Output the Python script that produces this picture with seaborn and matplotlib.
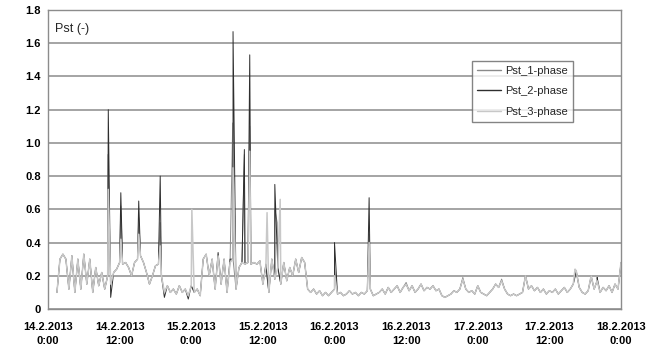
import numpy as np
import pandas as pd
import matplotlib
matplotlib.use("Agg")
import matplotlib.pyplot as plt
import seaborn as sns

# ---------------- data ----------------
# time grid in hours since 14.2.2013 0:00, half-hour steps
hours = np.arange(0, 96.5, 0.5)

phase3 = [np.nan, np.nan, np.nan, 0.10, 0.30, 0.33, 0.30, 0.12, 0.32, 0.10,
          0.30, 0.12, 0.33, 0.15, 0.30, 0.10, 0.25, 0.14, 0.22, 0.12,
          0.20, 0.15, 0.22, 0.24, 0.28, 0.27, 0.28, 0.25, 0.20, 0.28,
          0.30, 0.32, 0.28, 0.22, 0.15, 0.20, 0.26, 0.27, 0.20, 0.10,
          0.14, 0.10, 0.12, 0.09, 0.14, 0.10, 0.12, 0.08, 0.14, 0.10,
          0.12, 0.08, 0.30, 0.33, 0.20, 0.30, 0.12, 0.32, 0.15, 0.30,
          0.10, 0.28, 0.30, 0.12, 0.25, 0.28, 0.27, 0.28, 0.27, 0.28,
          0.27, 0.29, 0.15, 0.25, 0.10, 0.30, 0.18, 0.25, 0.15, 0.28,
          0.17, 0.25, 0.20, 0.30, 0.22, 0.31, 0.28, 0.12, 0.10, 0.12,
          0.09, 0.11, 0.08, 0.10, 0.08, 0.10, 0.12, 0.09, 0.10, 0.08,
          0.09, 0.11, 0.09, 0.10, 0.08, 0.10, 0.09, 0.11, 0.12, 0.08,
          0.09, 0.10, 0.12, 0.09, 0.13, 0.10, 0.12, 0.14, 0.10, 0.13,
          0.15, 0.11, 0.14, 0.10, 0.12, 0.15, 0.11, 0.13, 0.12, 0.14,
          0.11, 0.12, 0.08, 0.07, 0.08, 0.09, 0.11, 0.10, 0.12, 0.18,
          0.12, 0.10, 0.11, 0.09, 0.14, 0.10, 0.09, 0.08, 0.10, 0.12,
          0.15, 0.13, 0.17, 0.12, 0.09, 0.08, 0.09, 0.08, 0.09, 0.10,
          0.20, 0.12, 0.14, 0.11, 0.13, 0.10, 0.12, 0.09, 0.11, 0.10,
          0.12, 0.09, 0.11, 0.13, 0.10, 0.12, 0.15, 0.23, 0.13, 0.10,
          0.09, 0.11, 0.20, 0.12, 0.17, 0.10, 0.13, 0.11, 0.14, 0.10,
          0.15, 0.12, 0.28]

phase1 = [np.nan, np.nan, np.nan, 0.10, 0.30, 0.33, 0.30, 0.12, 0.32, 0.10,
          0.30, 0.12, 0.33, 0.15, 0.30, 0.10, 0.25, 0.14, 0.22, 0.12,
          0.20, 0.15, 0.22, 0.24, 0.28, 0.27, 0.28, 0.25, 0.20, 0.28,
          0.30, 0.32, 0.28, 0.22, 0.15, 0.20, 0.26, 0.27, 0.20, 0.10,
          0.14, 0.10, 0.12, 0.09, 0.14, 0.10, 0.12, 0.08, 0.14, 0.10,
          0.12, 0.08, 0.30, 0.33, 0.20, 0.30, 0.12, 0.32, 0.15, 0.30,
          0.10, 0.28, 0.30, 0.12, 0.25, 0.28, 0.27, 0.28, 0.27, 0.28,
          0.27, 0.29, 0.15, 0.25, 0.10, 0.30, 0.18, 0.25, 0.15, 0.28,
          0.17, 0.25, 0.20, 0.30, 0.22, 0.31, 0.28, 0.12, 0.10, 0.12,
          0.09, 0.11, 0.08, 0.10, 0.08, 0.10, 0.12, 0.09, 0.10, 0.08,
          0.09, 0.11, 0.09, 0.10, 0.08, 0.10, 0.09, 0.11, 0.12, 0.08,
          0.09, 0.10, 0.12, 0.09, 0.13, 0.10, 0.12, 0.14, 0.10, 0.13,
          0.16, 0.11, 0.14, 0.10, 0.12, 0.15, 0.11, 0.13, 0.12, 0.14,
          0.11, 0.12, 0.08, 0.07, 0.08, 0.09, 0.11, 0.10, 0.12, 0.19,
          0.12, 0.10, 0.11, 0.09, 0.14, 0.10, 0.09, 0.08, 0.10, 0.12,
          0.15, 0.13, 0.18, 0.12, 0.09, 0.08, 0.09, 0.08, 0.09, 0.10,
          0.20, 0.12, 0.14, 0.11, 0.13, 0.10, 0.12, 0.09, 0.11, 0.10,
          0.12, 0.09, 0.11, 0.13, 0.10, 0.12, 0.15, 0.22, 0.13, 0.10,
          0.09, 0.11, 0.19, 0.12, 0.17, 0.10, 0.13, 0.11, 0.14, 0.10,
          0.15, 0.12, 0.27]

phase2 = [np.nan, np.nan, np.nan, 0.10, 0.30, 0.33, 0.30, 0.12, 0.32, 0.10,
          0.30, 0.12, 0.33, 0.15, 0.30, 0.10, 0.25, 0.14, 0.22, 0.12,
          0.20, 0.07, 0.22, 0.24, 0.28, 0.27, 0.28, 0.25, 0.20, 0.28,
          0.30, 0.32, 0.28, 0.22, 0.15, 0.20, 0.26, 0.27, 0.20, 0.07,
          0.14, 0.10, 0.12, 0.09, 0.14, 0.10, 0.12, 0.06, 0.14, 0.10,
          0.12, 0.08, 0.30, 0.33, 0.20, 0.30, 0.12, 0.34, 0.15, 0.30,
          0.10, 0.30, 0.30, 0.12, 0.25, 0.28, 0.27, 0.28, 0.27, 0.28,
          0.27, 0.29, 0.15, 0.27, 0.10, 0.30, 0.18, 0.25, 0.15, 0.28,
          0.17, 0.25, 0.20, 0.30, 0.22, 0.31, 0.28, 0.12, 0.10, 0.12,
          0.09, 0.11, 0.08, 0.10, 0.08, 0.10, 0.12, 0.09, 0.10, 0.08,
          0.09, 0.11, 0.09, 0.10, 0.08, 0.10, 0.09, 0.11, 0.12, 0.08,
          0.09, 0.10, 0.12, 0.09, 0.13, 0.10, 0.12, 0.14, 0.10, 0.13,
          0.15, 0.11, 0.14, 0.10, 0.12, 0.15, 0.11, 0.13, 0.12, 0.14,
          0.11, 0.12, 0.08, 0.07, 0.08, 0.09, 0.11, 0.10, 0.12, 0.18,
          0.12, 0.10, 0.11, 0.09, 0.14, 0.10, 0.09, 0.08, 0.10, 0.12,
          0.15, 0.13, 0.17, 0.12, 0.09, 0.08, 0.09, 0.08, 0.09, 0.10,
          0.20, 0.12, 0.14, 0.11, 0.13, 0.10, 0.12, 0.09, 0.11, 0.10,
          0.12, 0.09, 0.11, 0.13, 0.10, 0.12, 0.15, 0.23, 0.13, 0.10,
          0.09, 0.11, 0.20, 0.12, 0.17, 0.10, 0.13, 0.11, 0.14, 0.10,
          0.15, 0.12, 0.28]

# short flicker events (hour, Pst)
spikes1_t = [10.05, 12.2, 15.2, 18.8, 30.95, 32.9, 33.8, 38.0, 38.4, 48.0, 53.8]
spikes1_v = [0.93, 0.62, 0.55, 0.52, 1.12, 0.93, 1.10, 0.60, 0.52, 0.25, 0.45]
spikes2_t = [10.1, 12.2, 15.2, 18.8, 31.0, 32.9, 33.8, 38.0, 48.0, 53.8, 92.0]
spikes2_v = [1.20, 0.70, 0.65, 0.80, 1.67, 0.96, 1.53, 0.75, 0.40, 0.67, 0.19]
spikes3_t = [10.1, 12.2, 15.2, 18.8, 24.1, 31.0, 33.8, 36.7, 38.9, 48.0, 53.8, 88.3]
spikes3_v = [0.72, 0.42, 0.45, 0.38, 0.60, 0.85, 0.95, 0.58, 0.66, 0.20, 0.40, 0.24]

series_names = ["Pst_1-phase", "Pst_2-phase", "Pst_3-phase"]
x_tick_hours = [0, 12, 24, 36, 48, 60, 72, 84, 96]
x_tick_labels = ["14.2.2013\n0:00", "14.2.2013\n12:00", "15.2.2013\n0:00",
                 "15.2.2013\n12:00", "16.2.2013\n0:00", "16.2.2013\n12:00",
                 "17.2.2013\n0:00", "17.2.2013\n12:00", "18.2.2013\n0:00"]
y_ticks = [0, 0.2, 0.4, 0.6, 0.8, 1.0, 1.2, 1.4, 1.6, 1.8]
y_tick_labels = ["0", "0.2", "0.4", "0.6", "0.8", "1.0", "1.2", "1.4", "1.6", "1.8"]

# ---------------- build table ----------------
frames = []
for name, base, st, sv in [(series_names[0], phase1, spikes1_t, spikes1_v),
                           (series_names[1], phase2, spikes2_t, spikes2_v),
                           (series_names[2], phase3, spikes3_t, spikes3_v)]:
    t = np.concatenate([hours, st])
    v = np.concatenate([np.array(base, dtype=float), sv])
    d = pd.DataFrame({"hour": t, "Pst": v, "phase": name}).dropna()
    d = d.sort_values("hour", kind="stable")
    frames.append(d)
df = pd.concat(frames, ignore_index=True)

# ---------------- plot ----------------
sns.set_style("white")
plt.rcParams["font.family"] = ["Liberation Sans", "DejaVu Sans"]

fig = plt.figure(figsize=(6.52, 3.49), dpi=100)
ax = fig.add_axes([48 / 652, 1 - 309 / 349, 573 / 652, 299 / 349])

palette = {"Pst_1-phase": "#8a8a8a", "Pst_2-phase": "#2e2e2e", "Pst_3-phase": "#c8c8c8"}
sns.lineplot(data=df, x="hour", y="Pst", hue="phase", hue_order=series_names,
             palette=palette, estimator=None, sort=False, linewidth=0.7, ax=ax)
# top (light) series drawn slightly wider so it dominates the overlapping base
data_lines = [l for l in ax.lines if l.get_label() in series_names or l.get_label().startswith("_child")]
if len(ax.lines) >= 3:
    ax.lines[2].set_linewidth(1.1)

ax.set_xlim(0, 96)
ax.set_ylim(0, 1.8)
ax.set_yticks(y_ticks)
ax.set_yticklabels(y_tick_labels)
ax.set_xticks(x_tick_hours)
ax.set_xticklabels(x_tick_labels)
ax.set_xlabel("")
ax.set_ylabel("")
ax.yaxis.grid(True, color="#8c8c8c", linewidth=1.1)
ax.set_axisbelow(True)
for s in ax.spines.values():
    s.set_color("#8c8c8c")
    s.set_linewidth(1.0)
ax.tick_params(axis="both", which="both", direction="out", length=3, width=1.0,
               color="#8c8c8c", labelsize=8, labelcolor="black")
ax.tick_params(axis="x", pad=6)
ax.tick_params(axis="y", pad=2)
for lab in ax.get_xticklabels() + ax.get_yticklabels():
    lab.set_fontweight("bold")
for lab in ax.get_xticklabels():
    lab.set_linespacing(1.6)

ax.text(0.013, 0.955, "Pst (-)", transform=ax.transAxes, fontsize=9,
        ha="left", va="top")

leg = ax.legend(loc="upper left", bbox_to_anchor=(0.74, 0.83), fontsize=8,
                frameon=True, fancybox=False, handlelength=2.2, handletextpad=0.3,
                borderpad=0.45, labelspacing=0.95, borderaxespad=0)
leg.get_frame().set_edgecolor("#666666")
leg.get_frame().set_linewidth(1.0)
for line in leg.get_lines():
    line.set_linewidth(1.0)

fig.savefig("out.png", dpi=100)
